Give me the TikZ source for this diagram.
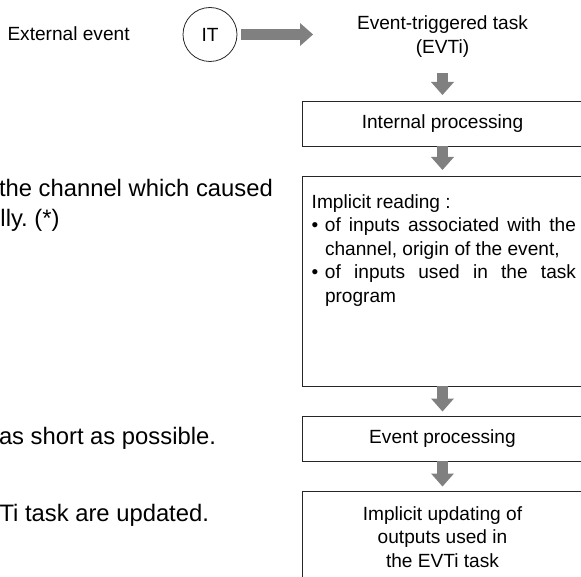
\documentclass[tikz,border=0pt]{standalone}
\usepackage{fontspec}
\setmainfont{Liberation Sans}
\usetikzlibrary{arrows.meta, positioning}

\definecolor{arrowgray}{RGB}{128,128,128}
\newcommand{\boxfont}{\fontsize{19.1pt}{23.5pt}\selectfont}
\newcommand{\notefont}{\fontsize{23.8pt}{30pt}\selectfont}
\setlength{\parindent}{0pt}
\tolerance=10000
\hyphenpenalty=10000

\begin{document}
\frenchspacing
\begin{tikzpicture}[
    x=1pt, y=1pt,
    box/.style={rectangle, draw=black!85, line width=0.8pt, minimum width=281pt, inner sep=0pt, outer sep=0pt, font=\boxfont, align=center},
    plain/.style={inner sep=0pt, outer sep=0pt, font=\boxfont, align=center},
    note/.style={inner sep=0pt, outer sep=0pt, font=\notefont, anchor=base west},
    readtext/.style={inner sep=0pt, outer sep=0pt, font=\boxfont, text width=264.3pt, align=justify},
    bigarrow/.style={draw=arrowgray, line width=11.5pt, -{Triangle[length=13pt, width=23pt, line width=0pt]}}
]
\path[use as bounding box, clip] (0,0) rectangle (581,-577);

% Nodes
\node[plain, anchor=base west] (extev) at (7.5,-41) {External event};
\node[circle, draw=black!85, line width=0.8pt, minimum size=54pt, inner sep=0pt, font=\boxfont] (irq) at (210,-34.5) {IT};
\node[box, minimum height=45pt] (intproc) at (442.5,-123.5) {Internal processing};
\node[plain, above=44pt of intproc] (evti) {Event-triggered task\\(EVTi)};
\node[box, minimum height=210pt, below=30pt of intproc] (reading) {};
\node[readtext, below right=18.6pt and 9.7pt of reading.north west] (readlist) {Implicit reading :\par
\hangindent=13.3pt\makebox[13.3pt][l]{•}of inputs associated with the channel, origin of the event,\par
\hangindent=13.3pt\makebox[13.3pt][l]{•}of inputs used in the task program\par};
\node[box, minimum height=45pt, below=30pt of reading] (evproc) {Event processing};
\node[box, minimum height=92pt, below=30pt of evproc] (update) {Implicit updating of\\outputs used in\\the EVTi task};

% Notes on the left
\node[note] (notea) at (-1,-196.7) {the channel which caused};
\node[note] (noteb) at (0.5,-226.7) {lly. (*)};
\node[note] (notec) at (-1,-444.3) {as short as possible.};
\node[note] (noted) at (-0.5,-521.7) {Ti task are updated.};

% Links
\draw[bigarrow, shorten <=3.5pt, shorten >=44pt] (irq.east) -- (irq.east -| evti.west);
\draw[bigarrow, shorten <=16pt, shorten >=6pt] (evti) -- (intproc);
\draw[bigarrow, shorten >=6pt] (intproc) -- (reading);
\draw[bigarrow, shorten >=4.5pt] (reading) -- (evproc);
\draw[bigarrow, shorten >=4.5pt] (evproc) -- (update);

\end{tikzpicture}
\end{document}
